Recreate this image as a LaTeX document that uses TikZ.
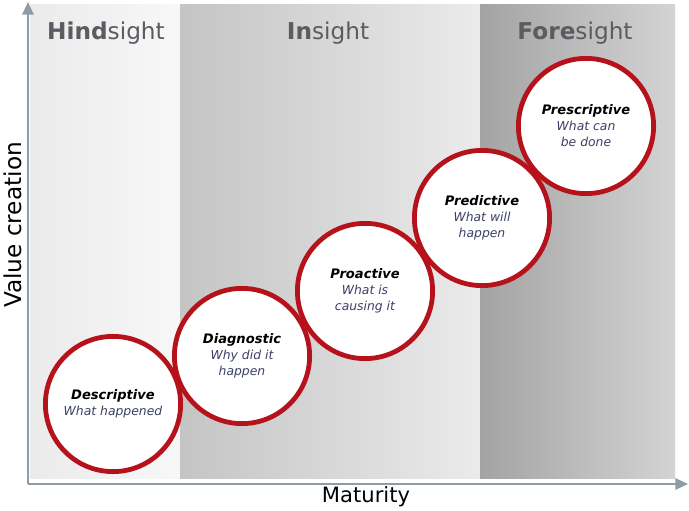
\documentclass[tikz,border=0pt]{standalone}
\usepackage{fontspec}
\setmainfont{DejaVu Sans}
\usetikzlibrary{positioning,arrows.meta}

\definecolor{ringred}{HTML}{B5121B}
\definecolor{axisgray}{HTML}{8E9CA6}
\definecolor{headgray}{HTML}{5A5C62}
\definecolor{notecol}{HTML}{3C4064}

\tikzset{
  stage/.style={circle, draw=ringred, line width=3.4pt, fill=white,
    minimum size=3.38cm, align=center, inner sep=0pt,
    font=\fontsize{9}{11.4}\selectfont},
  axisline/.style={draw=axisgray, line width=1.6pt,
    -{Triangle[length=9pt,width=8pt]}},
  header/.style={font=\fontsize{16.5}{19}\selectfont, text=headgray},
}

% title and note lines inside a ring
\newcommand{\ttl}[1]{{\fontsize{9.3}{11.4}\selectfont\bfseries\itshape #1}}
\newcommand{\note}[1]{{\fontsize{8.8}{11.4}\selectfont\itshape\color{notecol}#1}}

\begin{document}
\begin{tikzpicture}[x=0.025cm, y=-0.025cm]

\useasboundingbox (0,0) rectangle (689,511);

% ── Background bands ─────────────────────────────────────────
\shade[left color=black!8,  right color=black!3]  (30,5)  rectangle (180,478);
\shade[left color=black!23, right color=black!8]  (180,5) rectangle (480,478);
\shade[left color=black!36, right color=black!17] (480,5) rectangle (675,478);

% ── Band headers ─────────────────────────────────────────────
\node[header] (hind) at (106,33) {\textbf{Hind}sight};
\node[header] (ins)  at (328,33) {\textbf{In}sight};
\node[header] (fore) at (575,33) {\textbf{Fore}sight};

% ── Axes ─────────────────────────────────────────────────────
\coordinate (origin) at (28,484);
\coordinate (ytop)   at (28,2);
\coordinate (xend)   at (688,484);
\draw[axisline] (origin) -- (ytop);
\draw[axisline] (origin) -- (xend);

\node[font=\fontsize{16.5}{19}\selectfont, rotate=90] (vc)  at (13,225)  {Value creation};
\node[font=\fontsize{15}{17}\selectfont]              (mat) at (366,497) {Maturity};

% ── Stages ───────────────────────────────────────────────────
\node[stage] (desc)  at (113,404) {\ttl{Descriptive}\\\note{What happened}};
\node[stage] (diag)  at (242,356) {\ttl{Diagnostic}\\\note{Why did it}\\\note{happen}};
\node[stage] (proa)  at (365,291) {\ttl{Proactive}\\\note{What is}\\\note{causing it}};
\node[stage] (pred)  at (482,218) {\ttl{Predictive}\\\note{What will}\\\note{happen}};
\node[stage] (presc) at (586,126) {\ttl{Prescriptive}\\\note{What can}\\\note{be done}};

\end{tikzpicture}
\end{document}
